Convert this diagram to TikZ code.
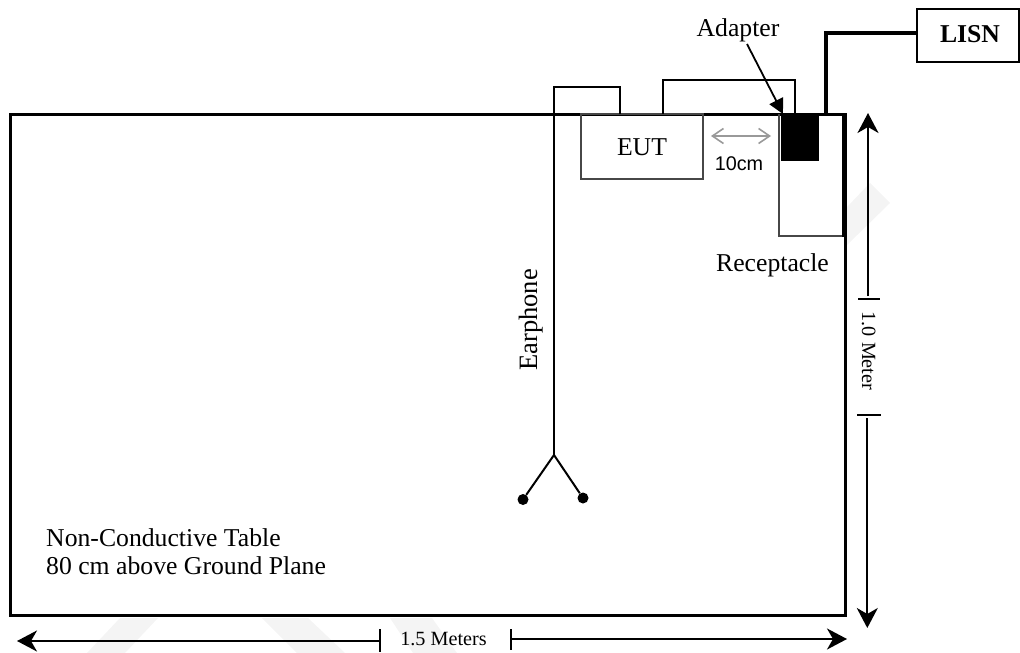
\documentclass[tikz,border=0pt]{standalone}
\usepackage{fontspec}
\setmainfont{Liberation Serif}
\newfontfamily\arialf{Liberation Sans}
\usetikzlibrary{arrows.meta}
\definecolor{wm}{HTML}{F4F4F4}
\tikzset{
  x=1pt,y=-1pt,
  wire/.style={draw=black,line width=2pt},
  thinbox/.style={draw=black!72,line width=2pt},
  lbl/.style={inner sep=0pt,anchor=base,font=\fontsize{25.7}{28}\selectfont},
  small/.style={inner sep=0pt,anchor=base,font=\fontsize{20.2}{23}\selectfont},
  dim/.style={line width=2pt,-{Stealth[length=20pt,width=21pt,inset=6pt]}},
  bar/.style={line width=2pt},
  bud/.style={circle,fill=black,inner sep=0pt,minimum size=11pt}
}
\begin{document}
\begin{tikzpicture}
\useasboundingbox (0,0) rectangle (1020,653);
% faint background marks
\fill[wm] (870,183) -- (890,203) -- (847,245) -- (847,207) -- cycle;
\fill[wm] (120,618) -- (158,618) -- (125,653) -- (87,653) -- cycle;
\fill[wm] (262,618) -- (308,618) -- (345,653) -- (297,653) -- cycle;
\fill[wm] (390,618) -- (432,618) -- (457,653) -- (413,653) -- cycle;
% table
\coordinate (tl) at (10.5,114.5);
\coordinate (br) at (845.5,615.5);
\draw[line width=3.2pt] (tl) rectangle (br);
% receptacle
\draw[thinbox] (842.5,236) -- (778.7,236) -- (778.7,114);
\fill[black] (841.8,114) rectangle (845.5,236.5);
% EUT
\draw[thinbox] (580.5,114) rectangle (703,179);
\node[lbl] (eut) at (642,155.7) {EUT};
% adapter block
\fill[black] (781,114) rectangle (819,160.5);
% cables
\coordinate (e0) at (620.3,114);
\coordinate (e1) at (620.3,87);
\coordinate (e2) at (554,87);
\coordinate (ej) at (554,455);
\draw[wire] (e0) -- (e1) -- (e2) -- (ej);
\node[bud] (b1) at (523,499.5) {};
\node[bud] (b2) at (583,498) {};
\draw[wire] (b1) -- (ej) -- (b2);
\coordinate (c0) at (663,114);
\coordinate (c1) at (663,80);
\coordinate (c2) at (795,80);
\coordinate (c3) at (795,114);
\draw[wire] (c0) -- (c1) -- (c2) -- (c3);
% LISN
\node[draw=black,line width=2pt,minimum width=101.5pt,minimum height=52.5pt,inner sep=0pt] (lisn) at (968,35.5) {};
\node[lbl,font=\fontsize{25.7}{28}\selectfont\bfseries] (lisnt) at (970,42.7) {LISN};
\coordinate (p0) at (826,114);
\coordinate (p1) at (826,33);
\draw[line width=3.8pt] (p0) -- (p1) -- (lisn.west |- p1);
% adapter label
\node[lbl] (adp) at (738,36) {Adapter};
\coordinate (adt) at (783,114);
\coordinate (ads) at (747,44);
\draw[line width=1.8pt,-{Triangle[length=15pt,width=15pt]}] (ads) -- (adt);
% 10cm
\coordinate (g0) at (711,136);
\coordinate (g1) at (771,136);
\draw[draw=black!40,line width=1.6pt,{Straight Barb[length=11pt,width=15pt]}-{Straight Barb[length=11pt,width=15pt]}] (g0) -- (g1);
\node[inner sep=0pt,anchor=base,font=\arialf\fontsize{19.8}{22}\selectfont] (cm) at (739,170) {10cm};
\node[lbl] (rec) at (772.5,271.7) {Receptacle};
% earphone label
\node[lbl,rotate=90,font=\fontsize{26.5}{28}\selectfont] (ear) at (537,320) {Earphone};
% table label
\node[lbl,anchor=base west] (tab1) at (46,546) {Non-Conductive Table};
\node[lbl,anchor=base west] (tab2) at (46,574) {80 cm above Ground Plane};
% vertical dim
\coordinate (v0) at (868,296);
\coordinate (v1) at (868,113);
\coordinate (v2) at (867.3,418);
\coordinate (v3) at (867.3,628);
\draw[dim] (v0) -- (v1);
\draw[dim] (v2) -- (v3);
\draw[bar] (858,299) -- (880,299);
\draw[bar] (857,415) -- (881,415);
\node[small,rotate=-90] (m1) at (862,351) {1.0 Meter};
% horizontal dim
\coordinate (h0) at (380,641);
\coordinate (h1) at (17,641);
\coordinate (h2) at (511,639);
\coordinate (h3) at (847,639);
\draw[dim] (h0) -- (h1);
\draw[dim] (h2) -- (h3);
\draw[bar] (380,629) -- (380,652);
\draw[bar] (511,629) -- (511,650);
\node[small] (m2) at (443.5,645) {1.5 Meters};
\end{tikzpicture}
\end{document}
